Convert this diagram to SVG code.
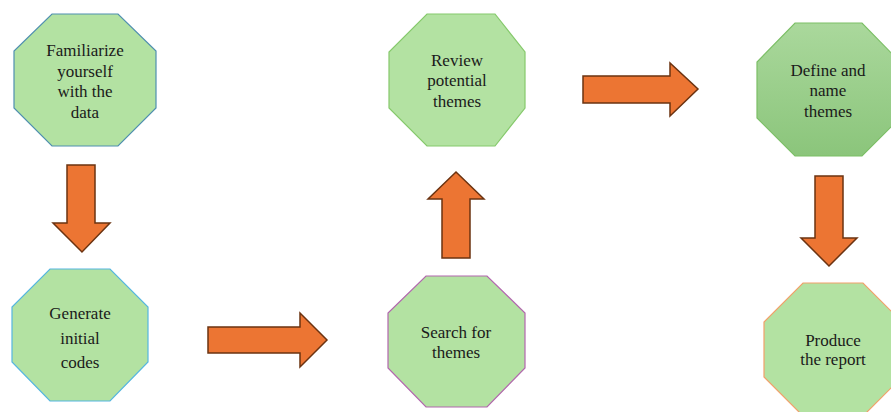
<svg xmlns="http://www.w3.org/2000/svg" width="891" height="412" viewBox="0 0 891 412">
<defs>
<linearGradient id="gDef" x1="0" y1="0" x2="0" y2="1">
<stop offset="0" stop-color="#aad89c"/>
<stop offset="1" stop-color="#8bc57b"/>
</linearGradient>
<style>
.oct{fill:#b3e2a2;stroke-width:1.2}
.lbl{font-family:"Liberation Serif","Times New Roman",serif;font-size:17px;fill:#1a1a1a;text-anchor:middle}
.arr{fill:#ec7533;stroke:#6b3311;stroke-width:1.5;stroke-linejoin:miter}
</style>
</defs>
<rect width="891" height="412" fill="#ffffff"/>
<g id="n1">
<polygon class="oct" stroke="#4f8fb0" points="52,14 118,14 156,51 156,108 118,146 52,146 14,108 14,51"/>
<text class="lbl" x="85" y="56">Familiarize</text>
<text class="lbl" x="85" y="77">yourself</text>
<text class="lbl" x="85" y="97">with the</text>
<text class="lbl" x="85" y="118">data</text>
</g>
<g id="n2">
<polygon class="oct" stroke="#55b6e0" points="50,269 110,269 148,307 148,362 110,401 50,401 12,362 12,307"/>
<text class="lbl" x="80" y="319">Generate</text>
<text class="lbl" x="80" y="344">initial</text>
<text class="lbl" x="80" y="368">codes</text>
</g>
<g id="n3">
<polygon class="oct" stroke="#86c96c" points="427,14 495,14 525,52 525,108 495,146 427,146 389,108 389,52"/>
<text class="lbl" x="457" y="66">Review</text>
<text class="lbl" x="457" y="86">potential</text>
<text class="lbl" x="457" y="107">themes</text>
</g>
<g id="n4">
<polygon class="oct" stroke="#b266ae" points="426,276 487,276 525,313 525,368 487,407 426,407 388,368 388,313"/>
<text class="lbl" x="456" y="338">Search for</text>
<text class="lbl" x="456" y="358">themes</text>
</g>
<g id="n5">
<polygon class="oct" fill="url(#gDef)" style="fill:url(#gDef)" stroke="#7cbf66" points="795,23 862,23 900,62 900,118 862,156 795,156 757,118 757,62"/>
<text class="lbl" x="828" y="76">Define and</text>
<text class="lbl" x="828" y="96">name</text>
<text class="lbl" x="828" y="117">themes</text>
</g>
<g id="n6">
<polygon class="oct" stroke="#f2a06a" points="803,283 863,283 902,322 902,377 863,416 803,416 764,377 764,322"/>
<text class="lbl" x="833" y="346">Produce</text>
<text class="lbl" x="833" y="365">the report</text>
</g>
<g id="connectors">
<polygon class="arr" points="67,165 95,165 95,223 110,223 82,252 53,223 67,223"/>
<polygon class="arr" points="208,327 300,327 300,313 327,340 300,367 300,353 208,353"/>
<polygon class="arr" points="442,258 442,199 428,199 456,172 484,199 470,199 470,258"/>
<polygon class="arr" points="583,76 670,76 670,63 698,89 670,116 670,103 583,103"/>
<polygon class="arr" points="815,176 843,176 843,238 857,238 829,266 801,238 815,238"/>
</g>
</svg>
